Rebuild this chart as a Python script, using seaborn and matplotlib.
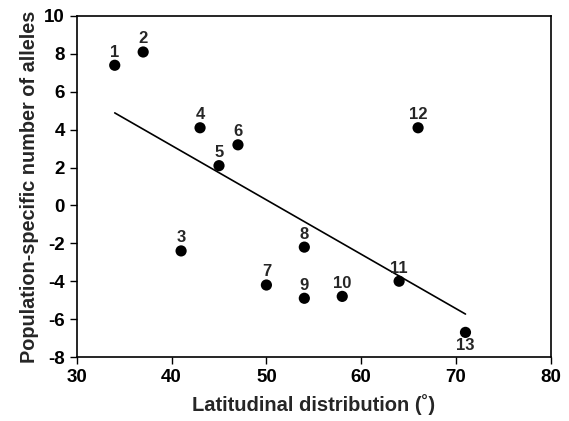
import pandas as pd
import matplotlib
matplotlib.use("Agg")
import matplotlib.pyplot as plt
import seaborn as sns

# Data
population = ["1", "2", "3", "4", "5", "6", "7", "8", "9", "10", "11", "12", "13"]
latitude = [34, 37, 41, 43, 45, 47, 50, 54, 54, 58, 64, 66, 71]
alleles = [7.4, 8.1, -2.4, 4.1, 2.1, 3.2, -4.2, -2.2, -4.9, -4.8, -4.0, 4.1, -6.7]

df = pd.DataFrame({"pop": population, "lat": latitude, "alleles": alleles})

sns.set_style("ticks")
plt.rcParams['font.family'] = ['Liberation Sans', 'DejaVu Sans']
plt.rcParams['font.weight'] = 'bold'
plt.rcParams['axes.unicode_minus'] = False

fig = plt.figure(figsize=(5.69, 4.21), dpi=100)
ax = fig.add_axes([0.135, 0.152, 0.833, 0.810])

# scatter + least squares line
sns.regplot(data=df, x="lat", y="alleles", ci=None, ax=ax,
            scatter_kws={"s": 65, "color": "black", "alpha": 1,
                         "edgecolor": "none", "zorder": 3},
            line_kws={"color": "black", "linewidth": 1.2})

# point labels
for _, row in df.iterrows():
    below = row["pop"] == "13"
    ax.annotate(row["pop"], (row["lat"], row["alleles"]),
                xytext=(0, -4 if below else 4),
                textcoords="offset points", ha="center",
                va="top" if below else "bottom",
                fontsize=12, fontweight="bold")

ax.set_xlim(30, 80)
ax.set_ylim(-8, 10)
ax.set_xticks(range(30, 81, 10))
ax.set_yticks(range(-8, 11, 2))
ax.tick_params(direction="out", length=5, width=1, labelsize=13.5, colors="black")
for lbl in ax.get_xticklabels() + ax.get_yticklabels():
    lbl.set_fontweight("bold")
for sp in ax.spines.values():
    sp.set_linewidth(1.2)
    sp.set_color("black")

ax.set_xlabel("Latitudinal distribution (˚)", fontsize=14.5, fontweight="bold", labelpad=6)
ax.set_ylabel("Population-specific number of alleles", fontsize=14.3, fontweight="bold", labelpad=4)

fig.savefig("out.png", dpi=100)
